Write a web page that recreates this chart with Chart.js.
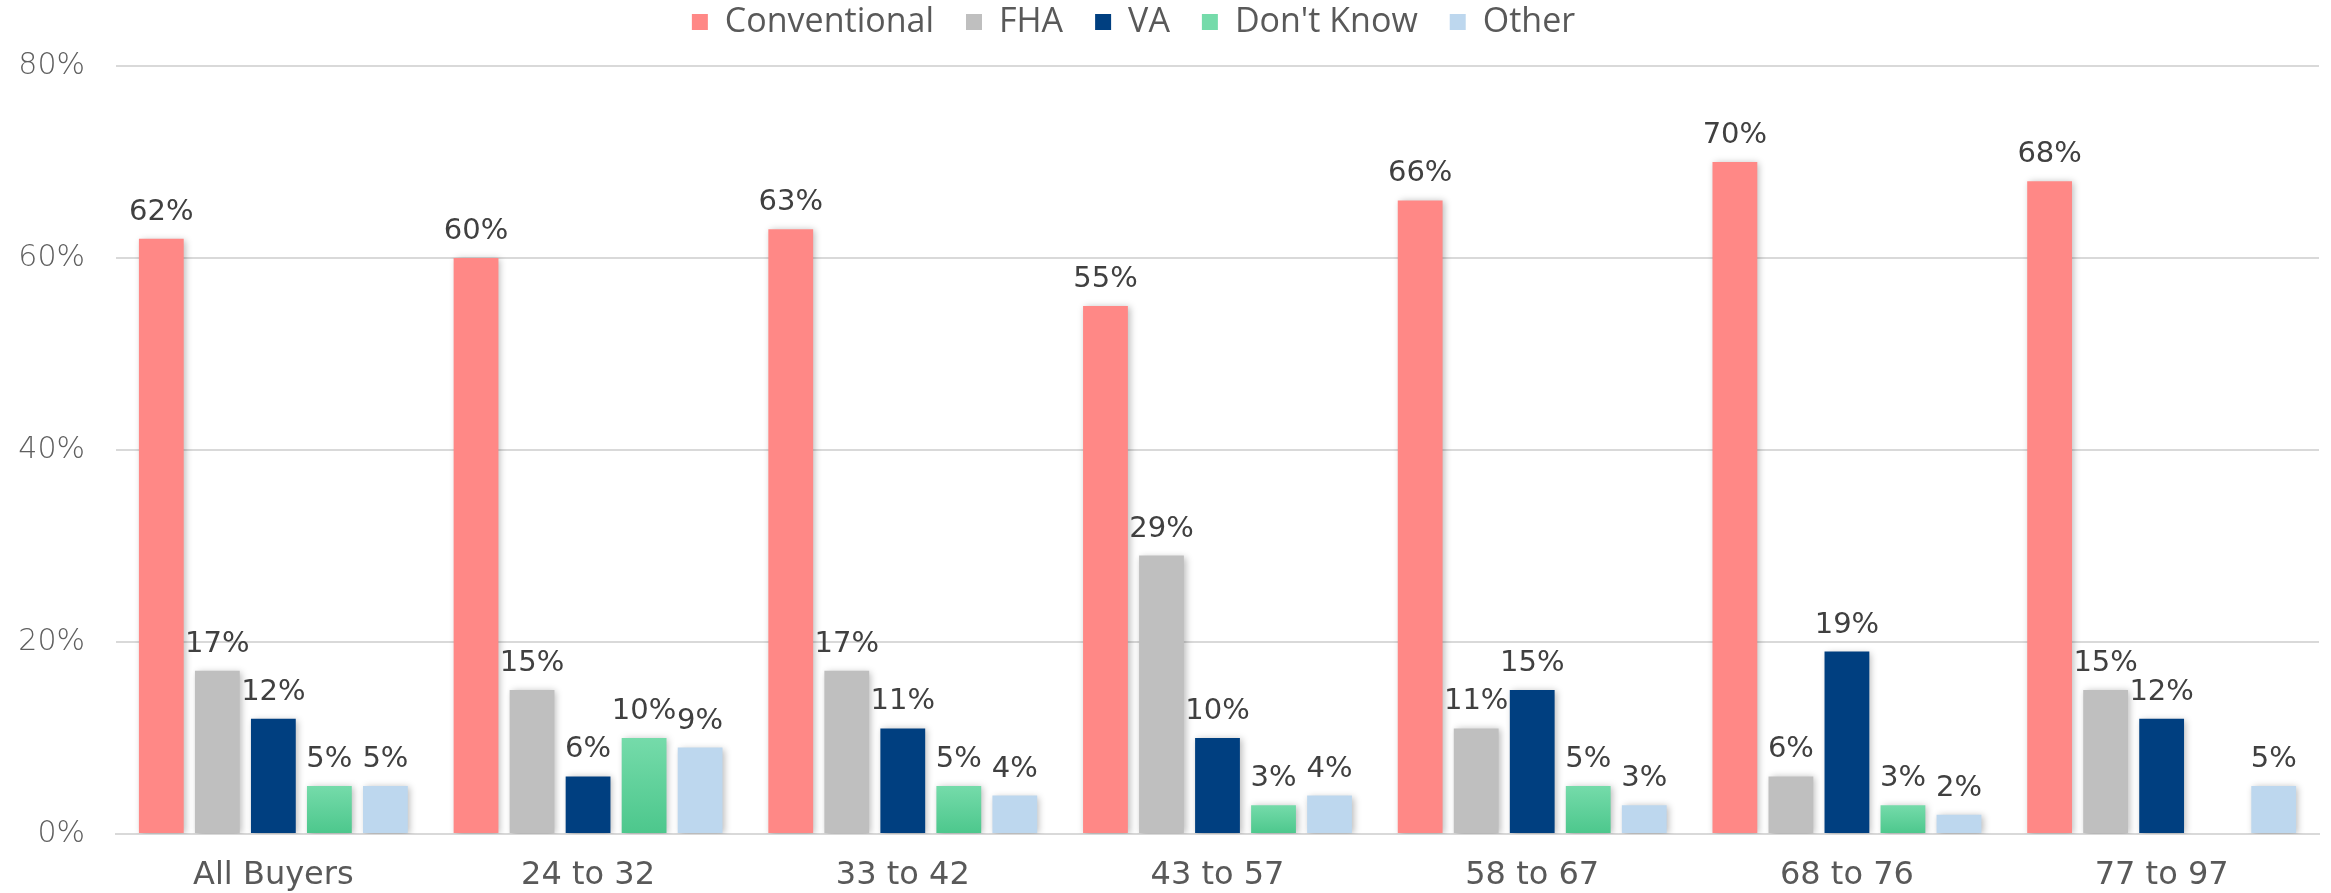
<!DOCTYPE html>
<html>
<head>
<meta charset="utf-8">
<script src="https://cdn.jsdelivr.net/npm/chart.js@4"></script>
<style>
  html, body { margin: 0; padding: 0; background: #fff; }
  #wrap { width: 2331px; height: 893px; }
</style>
</head>
<body>
<div id="wrap"><canvas id="chartMortgage"></canvas></div>
<script>
// data
const categorias = ['All Buyers', '24 to 32', '33 to 42', '43 to 57', '58 to 67', '68 to 76', '77 to 97'];
const conventional = [62, 60, 63, 55, 66, 70, 68];
const fha = [17, 15, 17, 29, 11, 6, 15];
const va = [12, 6, 11, 10, 15, 19, 12];
const noSabe = [5, 10, 5, 3, 5, 3, null];
const otro = [5, 9, 4, 4, 3, 2, 5];
const ticksY = [0, 20, 40, 60, 80];

const FUENTE = "'DejaVu Sans', sans-serif";

// gradient for the "Don't Know" bars, one per bar
function verdeGradiente(context) {
    const chart = context.chart;
    const y = chart.scales && chart.scales.y;
    const v = context.raw;
    if (!y || v == null || !chart.chartArea) return '#5fd09b';
    const top = y.getPixelForValue(v);
    const bottom = y.getPixelForValue(0);
    const g = chart.ctx.createLinearGradient(0, top, 0, bottom);
    g.addColorStop(0, '#75dbaa');
    g.addColorStop(1, '#4cc78c');
    return g;
}

// soft shadow behind each bar
const sombraBarras = {
    id: 'sombraBarras',
    beforeDatasetDraw(chart) {
        const ctx = chart.ctx;
        ctx.save();
        ctx.shadowColor = 'rgba(0,0,0,0.28)';
        ctx.shadowBlur = 7;
        ctx.shadowOffsetX = 2;
        ctx.shadowOffsetY = 1;
    },
    afterDatasetDraw(chart) {
        chart.ctx.restore();
    }
};

// value labels above bars
const etiquetas = {
    id: 'etiquetas',
    afterDatasetsDraw(chart) {
        const ctx = chart.ctx;
        ctx.save();
        ctx.font = "29px " + FUENTE;
        ctx.fillStyle = '#404040';
        ctx.textAlign = 'center';
        ctx.textBaseline = 'alphabetic';
        chart.data.datasets.forEach((ds, i) => {
            const meta = chart.getDatasetMeta(i);
            meta.data.forEach((bar, j) => {
                const v = ds.data[j];
                if (v == null) return;
                ctx.fillText(v + '%', bar.x, bar.y - 19);
            });
        });
        ctx.restore();
    }
};

// fixed legend height so the plot top lands where it should
const alturaLeyenda = {
    id: 'alturaLeyenda',
    beforeInit(chart) {
        const fitOriginal = chart.legend.fit;
        chart.legend.fit = function () {
            fitOriginal.bind(chart.legend)();
            this.height = 66;
        };
    },
    afterLayout(chart) {
        chart.legend.left -= 26;
        chart.legend.right -= 26;
        chart.legend.top -= 27;
    }
};

const ctx = document.getElementById('chartMortgage').getContext('2d');
new Chart(ctx, {
    type: 'bar',
    data: {
        labels: categorias,
        datasets: [
            { label: 'Conventional', data: conventional, backgroundColor: '#ff8886' },
            { label: 'FHA', data: fha, backgroundColor: '#bfbfbf' },
            { label: 'VA', data: va, backgroundColor: '#003f80' },
            { label: "Don't Know", data: noSabe, backgroundColor: verdeGradiente },
            { label: 'Other', data: otro, backgroundColor: '#bdd7ee' }
        ]
    },
    options: {
        responsive: true,
        maintainAspectRatio: false,
        animation: false,
        devicePixelRatio: 1,
        categoryPercentage: 0.89,
        barPercentage: 0.8,
        layout: { padding: { left: 0, right: 12, top: 0, bottom: 0 } },
        scales: {
            x: {
                afterFit(scale) { scale.height = 59; },
                grid: { display: false, drawTicks: false },
                border: { display: true, color: '#d9d9d9', width: 2 },
                ticks: {
                    padding: 22,
                    color: '#595959',
                    font: { family: FUENTE, size: 32 }
                }
            },
            y: {
                min: 0,
                max: 80,
                afterFit(scale) { scale.width = 116; },
                afterBuildTicks(scale) { scale.ticks = ticksY.map(v => ({ value: v })); },
                grid: { color: '#d9d9d9', lineWidth: 2, drawTicks: false },
                border: { display: false },
                ticks: {
                    padding: 31,
                    color: '#5f5f5f',
                    font: { family: FUENTE, size: 30, weight: 200 },
                    callback: v => v + '%'
                }
            }
        },
        plugins: {
            legend: {
                position: 'top',
                labels: {
                    boxWidth: 16,
                    boxHeight: 16,
                    padding: 32,
                    color: '#595959',
                    font: { family: "'Open Sans', sans-serif", size: 34 }
                }
            },
            tooltip: { enabled: false }
        }
    },
    plugins: [sombraBarras, etiquetas, alturaLeyenda]
});
</script>
</body>
</html>
